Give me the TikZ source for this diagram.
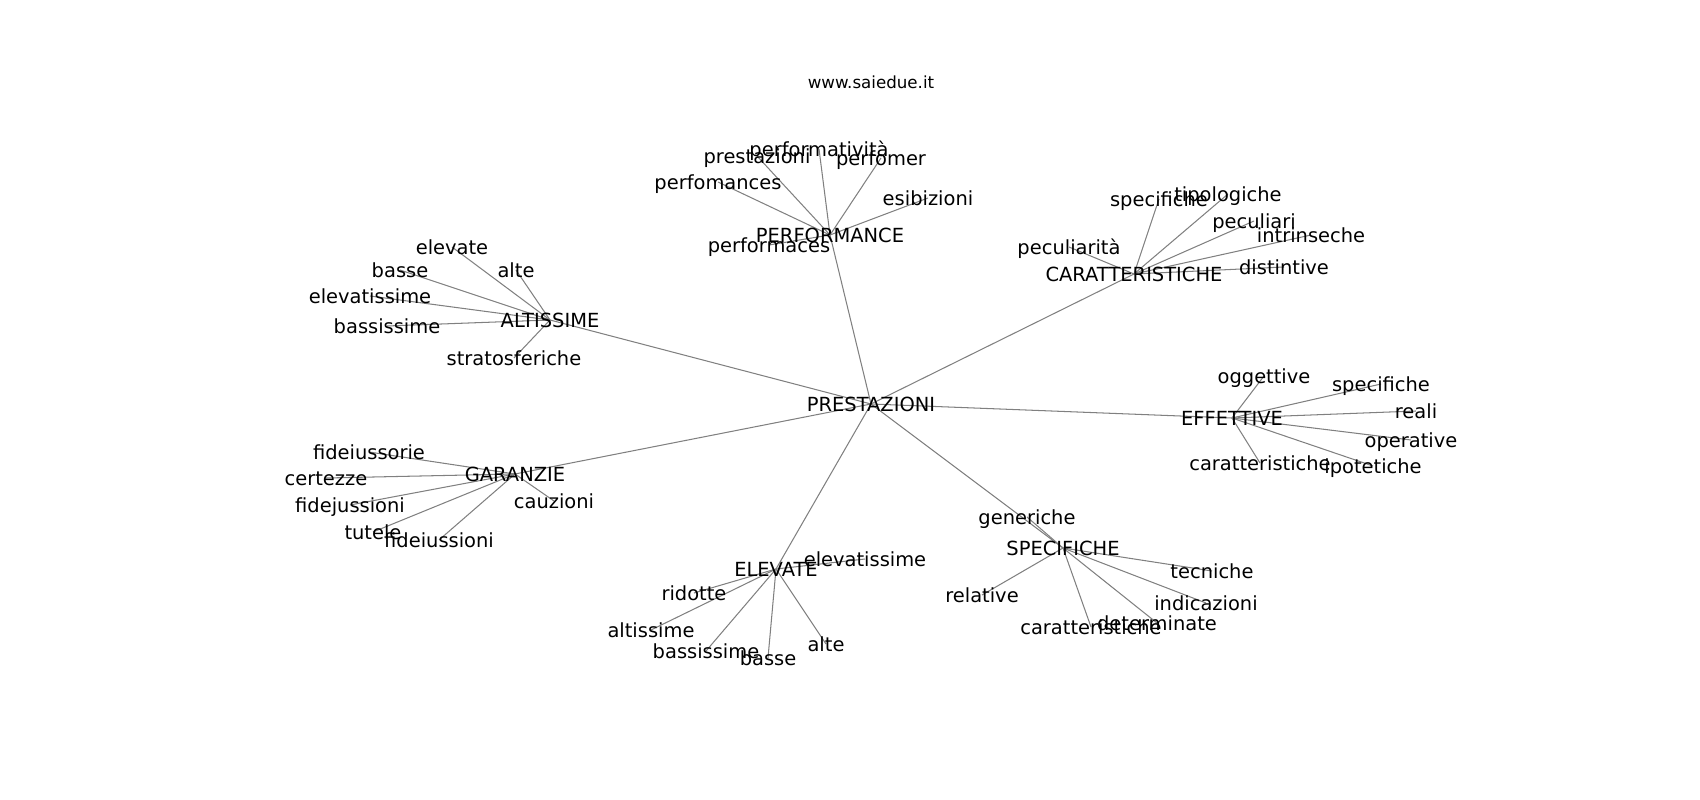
\documentclass[tikz,border=0pt]{standalone}
\usepackage{fontspec}
\setmainfont{DejaVu Sans}
\usetikzlibrary{backgrounds}

\begin{document}
\begin{tikzpicture}[x=0.01in,y=-0.01in,
    lbl/.style={font=\fontsize{14bp}{17bp}\selectfont, inner sep=0pt, text height=11.4bp, text depth=0pt},
    ttl/.style={font=\fontsize{12bp}{14bp}\selectfont, inner sep=0pt, text height=10bp, text depth=0pt},
    edge/.style={draw=gray, line width=0.75bp}]

        \useasboundingbox (0,0) rectangle (1700,800);

        \node[ttl] (web) at (871,82) {www.saiedue.it};

        % centro
        \node[lbl] (prest) at (871,404) {PRESTAZIONI};

        % performance
        \node[lbl] (perf) at (830,235) {PERFORMANCE};
        \node[lbl] (perf1) at (819,149) {performatività};
        \node[lbl] (perf2) at (757,156) {prestazioni};
        \node[lbl] (perf3) at (881,158) {perfomer};
        \node[lbl] (perf4) at (718,182) {perfomances};
        \node[lbl] (perf5) at (928,198) {esibizioni};
        \node[lbl] (perf6) at (769,245) {performaces};

        % caratteristiche
        \node[lbl] (car) at (1134,274) {CARATTERISTICHE};
        \node[lbl] (car1) at (1159,199) {specifiche};
        \node[lbl] (car2) at (1228,194) {tipologiche};
        \node[lbl] (car3) at (1254,221) {peculiari};
        \node[lbl] (car4) at (1311,235) {intrinseche};
        \node[lbl] (car5) at (1284,267) {distintive};
        \node[lbl] (car6) at (1069,247) {peculiarità};

        % altissime
        \node[lbl] (alt) at (550,320) {ALTISSIME};
        \node[lbl] (alt1) at (452,247) {elevate};
        \node[lbl] (alt2) at (516,270) {alte};
        \node[lbl] (alt3) at (400,270) {basse};
        \node[lbl] (alt4) at (370,296) {elevatissime};
        \node[lbl] (alt5) at (387,326) {bassissime};
        \node[lbl] (alt6) at (514,358) {stratosferiche};

        % effettive
        \node[lbl] (eff) at (1232,418) {EFFETTIVE};
        \node[lbl] (eff1) at (1264,376) {oggettive};
        \node[lbl] (eff2) at (1381,384) {specifiche};
        \node[lbl] (eff3) at (1416,411) {reali};
        \node[lbl] (eff4) at (1411,440) {operative};
        \node[lbl] (eff5) at (1373,466) {ipotetiche};
        \node[lbl] (eff6) at (1260,463) {caratteristiche};

        % garanzie
        \node[lbl] (gar) at (515,474) {GARANZIE};
        \node[lbl] (gar1) at (369,452) {fideiussorie};
        \node[lbl] (gar2) at (326,478) {certezze};
        \node[lbl] (gar3) at (350,505) {fidejussioni};
        \node[lbl] (gar4) at (373,532) {tutele};
        \node[lbl] (gar5) at (439,540) {fideiussioni};
        \node[lbl] (gar6) at (554,501) {cauzioni};

        % elevate
        \node[lbl] (ele) at (776,569) {ELEVATE};
        \node[lbl] (ele1) at (865,559) {elevatissime};
        \node[lbl] (ele2) at (694,593) {ridotte};
        \node[lbl] (ele3) at (651,630) {altissime};
        \node[lbl] (ele4) at (706,651) {bassissime};
        \node[lbl] (ele5) at (768,658) {basse};
        \node[lbl] (ele6) at (826,644) {alte};

        % specifiche
        \node[lbl] (spe) at (1063,548) {SPECIFICHE};
        \node[lbl] (spe1) at (1027,517) {generiche};
        \node[lbl] (spe2) at (982,595) {relative};
        \node[lbl] (spe3) at (1212,571) {tecniche};
        \node[lbl] (spe4) at (1206,603) {indicazioni};
        \node[lbl] (spe5) at (1157,623) {determinate};
        \node[lbl] (spe6) at (1091,627) {caratteristiche};

        \begin{pgfonlayer}{background}
            \foreach \h in {perf,car,alt,eff,gar,ele,spe}
            {
                \draw[edge] (prest.center) -- (\h.center);
                \foreach \i in {1,...,6}
                    \draw[edge] (\h.center) -- (\h\i.center);
            }
        \end{pgfonlayer}

\end{tikzpicture}
\end{document}
